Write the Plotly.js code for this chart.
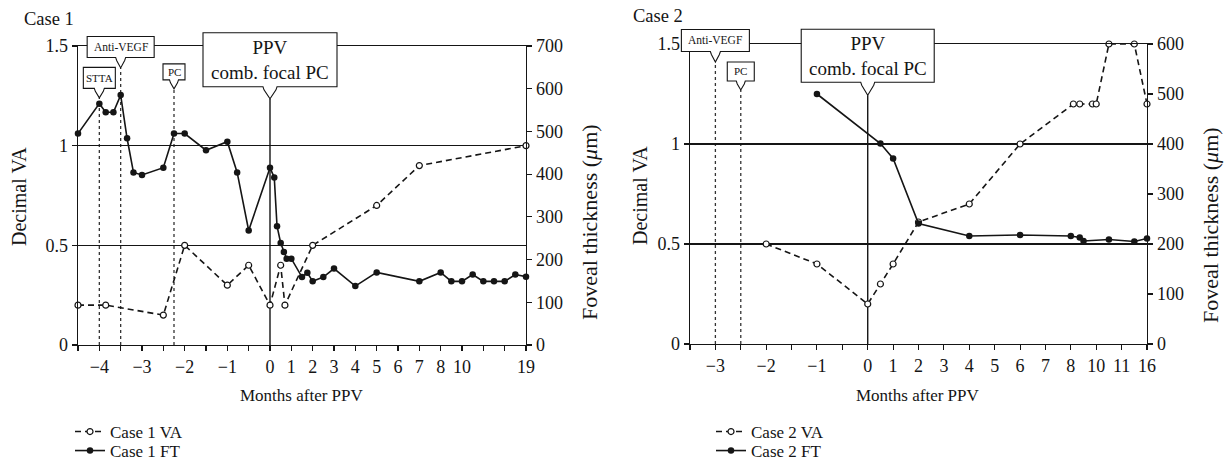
<!DOCTYPE html>
<html><head><meta charset="utf-8">
<script src="https://cdn.plot.ly/plotly-3.0.1.min.js"></script>
<style>body{margin:0;background:#fff}</style>
</head><body><div id="chart" style="width:1232px;height:472px"></div>
<script>
// ---------- Case 1 data ----------
const c1VaMonths = [-4.5, -3.85, -2.5, -2, -1, -0.5, 0, 0.5, 0.7, 2, 5, 7, 19];
const c1VaValues = [0.2, 0.2, 0.15, 0.5, 0.3, 0.4, 0.2, 0.4, 0.2, 0.5, 0.7, 0.9, 1.0];
const c1FtMonths = [-4.5, -4, -3.85, -3.67, -3.5, -3.35, -3.2, -3, -2.5, -2.25, -2, -1.5, -1, -0.77, -0.5,
  0, 0.2, 0.33, 0.5, 0.65, 0.78, 1, 1.5, 1.75, 2, 2.5, 3, 4, 5, 7, 8, 9, 10, 11.5, 13, 14.5, 16, 17.5, 19];
const c1FtValues = [495, 565, 545, 545, 585, 484, 404, 398, 415, 495, 495, 456, 476, 404, 268,
  415, 392, 278, 239, 218, 202, 202, 159, 169, 149, 159, 179, 138, 170, 149, 170, 149, 149, 165, 149, 149, 149, 165, 160];
const c1TickMonths = [-4.5, -4, -3.5, -3, -2.5, -2, -1.5, -1, -0.5, 0, 1, 2, 3, 4, 5, 6, 7, 8, 10, 13, 16, 19];
const c1TickLabels = ['', '\u22124', '', '\u22123', '', '\u22122', '', '\u22121', '', '0', '1', '2', '3', '4', '5', '6', '7', '8', '10', '', '', '19'];
const c1EventLabels = ['STTA', 'Anti-VEGF', 'PC', 'PPV<br>comb. focal PC'];
const c1EventMonths = [-4, -3.5, -2.25, 0];

// ---------- Case 2 data ----------
const c2VaMonths = [-2, -1, 0, 0.5, 1, 2, 4, 6, 8.2, 8.7, 9.7, 10, 10.5, 13.5, 16];
const c2VaValues = [0.5, 0.4, 0.2, 0.3, 0.4, 0.61, 0.7, 1.0, 1.2, 1.2, 1.2, 1.2, 1.5, 1.5, 1.2];
const c2FtMonths = [-1, 0.5, 1, 2, 4, 6, 8, 8.7, 9, 10.5, 13.5, 16];
const c2FtValues = [500, 401, 371, 241, 216, 218, 216, 213, 206, 209, 205, 211];
const c2TickMonths = [-3.5, -3, -2.5, -2, -1.5, -1, -0.5, 0, 1, 2, 3, 4, 5, 6, 7, 8, 10, 11, 16];
const c2TickLabels = ['', '\u22123', '', '\u22122', '', '\u22121', '', '0', '1', '2', '3', '4', '5', '6', '7', '8', '10', '11', '16'];
const c2EventLabels = ['Anti-VEGF', 'PC', 'PPV<br>comb. focal PC'];
const c2EventMonths = [-3, -2.5, 0];

// ---------- broken (non-linear) month axes ----------
function pos1(m) {
  if (m <= 0) return 2 * m;
  if (m <= 8) return m;
  if (m <= 10) return 8 + (m - 8) / 2;
  return 9 + (m - 10) / 3;
}
function pos2(m) {
  if (m <= 0) return 2 * m;
  if (m <= 8) return m;
  if (m <= 10) return 8 + (m - 8) / 2;
  if (m <= 11) return 9 + (m - 10);
  return 10 + (m - 11) / 5;
}

const FONT = 'Liberation Serif, Times New Roman, serif';
const INK = '#151515';
const W_PX = 1232, H_PX = 472;

// subplot geometry
const X1_DOM = [78 / W_PX, 526 / W_PX], X1_RANGE = [-9, 12];
const Y1_DOM = [1 - 345 / H_PX, 1 - 46 / H_PX];
const X2_DOM = [690 / W_PX, 1147 / W_PX], X2_RANGE = [-7, 11];
const Y2_DOM = [1 - 344 / H_PX, 1 - 44 / H_PX];
const VA_RANGE = [0, 1.5];

function vaTrace(months, vals, f, name, xa, ya, leg) {
  return {x: months.map(f), y: vals, name: name, xaxis: xa, yaxis: ya, legend: leg,
    type: 'scatter', mode: 'lines+markers', cliponaxis: false,
    line: {color: INK, width: 1.6, dash: '6px,4px'},
    marker: {symbol: 'circle', size: 6, color: 'white', line: {color: INK, width: 1.2}}};
}
function ftTrace(months, vals, f, name, xa, ya, leg) {
  return {x: months.map(f), y: vals, name: name, xaxis: xa, yaxis: ya, legend: leg,
    type: 'scatter', mode: 'lines+markers', cliponaxis: false,
    line: {color: INK, width: 1.6},
    marker: {symbol: 'circle', size: 6.5, color: INK}};
}

const data = [
  vaTrace(c1VaMonths, c1VaValues, pos1, 'Case 1 VA', 'x', 'y', 'legend'),
  ftTrace(c1FtMonths, c1FtValues, pos1, 'Case 1 FT', 'x', 'y2', 'legend2'),
  vaTrace(c2VaMonths, c2VaValues, pos2, 'Case 2 VA', 'x2', 'y3', 'legend3'),
  ftTrace(c2FtMonths, c2FtValues, pos2, 'Case 2 FT', 'x2', 'y4', 'legend4')
];

// callout geometry (pixels): tip height on VA axis, box width/height, gap, notch half-width, font size
const c1Callouts = [
  {tip: 1.24, W: 32, H: 21, g: 9.5, n: 5, fs: 11},
  {tip: 1.39, W: 67, H: 21, g: 10.5, n: 5, fs: 11.5},
  {tip: 1.285, W: 22, H: 16, g: 9, n: 4.5, fs: 11},
  {tip: 1.235, W: 134, H: 54, g: 12, n: 7, fs: 19}
];
const c2Callouts = [
  {tip: 1.41, W: 68, H: 22, g: 10.5, n: 5, fs: 11.5},
  {tip: 1.27, W: 27, H: 19, g: 9, n: 4.5, fs: 11},
  {tip: 1.244, W: 133, H: 53, g: 13, n: 7, fs: 19}
];

const shapes = [];
const annotations = [];
function toPaper(v, range, dom) { return dom[0] + (v - range[0]) / (range[1] - range[0]) * (dom[1] - dom[0]); }
function addEvents(labels, months, f, geo, xref, yref, xr, xd, yd) {
  labels.forEach((lab, i) => {
    const p = f(months[i]);
    const c = geo[i];
    const isPPV = i === labels.length - 1;
    shapes.push({type: 'line', xref: xref, yref: yref, x0: p, x1: p, y0: 0, y1: c.tip, layer: 'below',
      line: {color: isPPV ? INK : '#333', width: isPPV ? 1.4 : 1.3, dash: isPPV ? 'solid' : 'dot'}});
    const W = c.W / 2, g = c.g, H = c.H, n = c.n;
    const path = `M ${-W},${g} L ${-n},${g} L ${-n + 1},${g - 3} L 0,0 L ${n - 1},${g - 3} L ${n},${g} L ${W},${g} L ${W},${g + H} L ${-W},${g + H} Z`;
    shapes.push({type: 'path', xref: 'paper', yref: 'paper', xsizemode: 'pixel', ysizemode: 'pixel',
      xanchor: toPaper(p, xr, xd), yanchor: toPaper(c.tip, VA_RANGE, yd), path: path, fillcolor: 'white', layer: 'above',
      line: {color: INK, width: 1.1}});
    annotations.push({xref: xref, yref: yref, x: p, y: c.tip, yshift: g + H / 2, showarrow: false,
      xanchor: 'center', yanchor: 'middle', text: lab, font: {family: FONT, size: c.fs, color: INK}});
  });
}
addEvents(c1EventLabels, c1EventMonths, pos1, c1Callouts, 'x', 'y', X1_RANGE, X1_DOM, Y1_DOM);
addEvents(c2EventLabels, c2EventMonths, pos2, c2Callouts, 'x2', 'y3', X2_RANGE, X2_DOM, Y2_DOM);

function txt(x, y, text, size, angle) {
  return {xref: 'paper', yref: 'paper', x: x / W_PX, y: 1 - y / H_PX, text: text, showarrow: false,
    xanchor: 'center', yanchor: 'middle', textangle: angle || 0, font: {family: FONT, size: size, color: INK}};
}
annotations.push({xref: 'paper', yref: 'paper', x: 22 / W_PX, y: 1 - 19 / H_PX, xanchor: 'left', yanchor: 'middle',
  text: 'Case 1', showarrow: false, font: {family: FONT, size: 18.5, color: INK}});
annotations.push({xref: 'paper', yref: 'paper', x: 631 / W_PX, y: 1 - 16 / H_PX, xanchor: 'left', yanchor: 'middle',
  text: 'Case 2', showarrow: false, font: {family: FONT, size: 18.5, color: INK}});
annotations.push(txt(19, 197, 'Decimal VA', 20, -90));
annotations.push(txt(640, 195, 'Decimal VA', 20, -90));
annotations.push(txt(589, 222, 'Foveal thickness (<i>\u03bc</i>m)', 22, -90));
annotations.push(txt(1211, 225, 'Foveal thickness (<i>\u03bc</i>m)', 22, -90));
annotations.push(txt(302, 395, 'Months after PPV', 17));
annotations.push(txt(918, 395, 'Months after PPV', 17));

const tickFont = {family: FONT, size: 18, color: INK};
function xAxis(domain, range, tickMonths, labels, f, anchor) {
  return {domain: domain, range: range, anchor: anchor, tickmode: 'array', tickvals: tickMonths.map(f), ticktext: labels,
    ticks: 'outside', ticklen: 5, tickwidth: 1.1, tickcolor: INK, showline: true, linecolor: INK, linewidth: 1.4,
    mirror: true, showgrid: false, zeroline: false, tickfont: tickFont, fixedrange: true};
}
function vaAxis(domain, anchor) {
  return {domain: domain, range: VA_RANGE, anchor: anchor, tickmode: 'array', tickvals: [0, 0.5, 1, 1.5], ticktext: ['0', '0.5', '1', '1.5'],
    ticks: 'outside', ticklen: 5, tickwidth: 1.1, tickcolor: INK, showline: true, linecolor: INK, linewidth: 1.4,
    showgrid: true, gridcolor: INK, gridwidth: 1.2, zeroline: false, tickfont: tickFont};
}
function ftAxis(over, max, anchor) {
  return {overlaying: over, side: 'right', anchor: anchor, range: [0, max], dtick: 100, tick0: 0,
    ticks: 'outside', ticklen: 5, tickwidth: 1.1, tickcolor: INK, showline: true, linecolor: INK, linewidth: 1.4,
    showgrid: false, zeroline: false, tickfont: tickFont};
}

function legendAt(x, y) {
  return {x: x / W_PX, y: 1 - y / H_PX, bgcolor: 'rgba(0,0,0,0)', font: {family: FONT, size: 17, color: INK},
    xanchor: 'left', yanchor: 'middle', tracegroupgap: 0, itemwidth: 30, orientation: 'v'};
}

const layout = {
  width: W_PX, height: H_PX, margin: {l: 0, r: 0, t: 0, b: 0},
  paper_bgcolor: 'white', plot_bgcolor: 'white',
  font: {family: FONT, color: INK},
  xaxis: xAxis(X1_DOM, X1_RANGE, c1TickMonths, c1TickLabels, pos1, 'y'),
  yaxis: vaAxis(Y1_DOM, 'x'),
  yaxis2: ftAxis('y', 700, 'x'),
  xaxis2: xAxis(X2_DOM, X2_RANGE, c2TickMonths, c2TickLabels, pos2, 'y3'),
  yaxis3: vaAxis(Y2_DOM, 'x2'),
  yaxis4: ftAxis('y3', 600, 'x2'),
  legend: legendAt(70, 432),
  legend2: legendAt(70, 451),
  legend3: legendAt(711, 432),
  legend4: legendAt(711, 451),
  showlegend: true,
  shapes: shapes,
  annotations: annotations
};

Plotly.newPlot('chart', data, layout, {displayModeBar: false, staticPlot: true});
</script>
</body></html>
